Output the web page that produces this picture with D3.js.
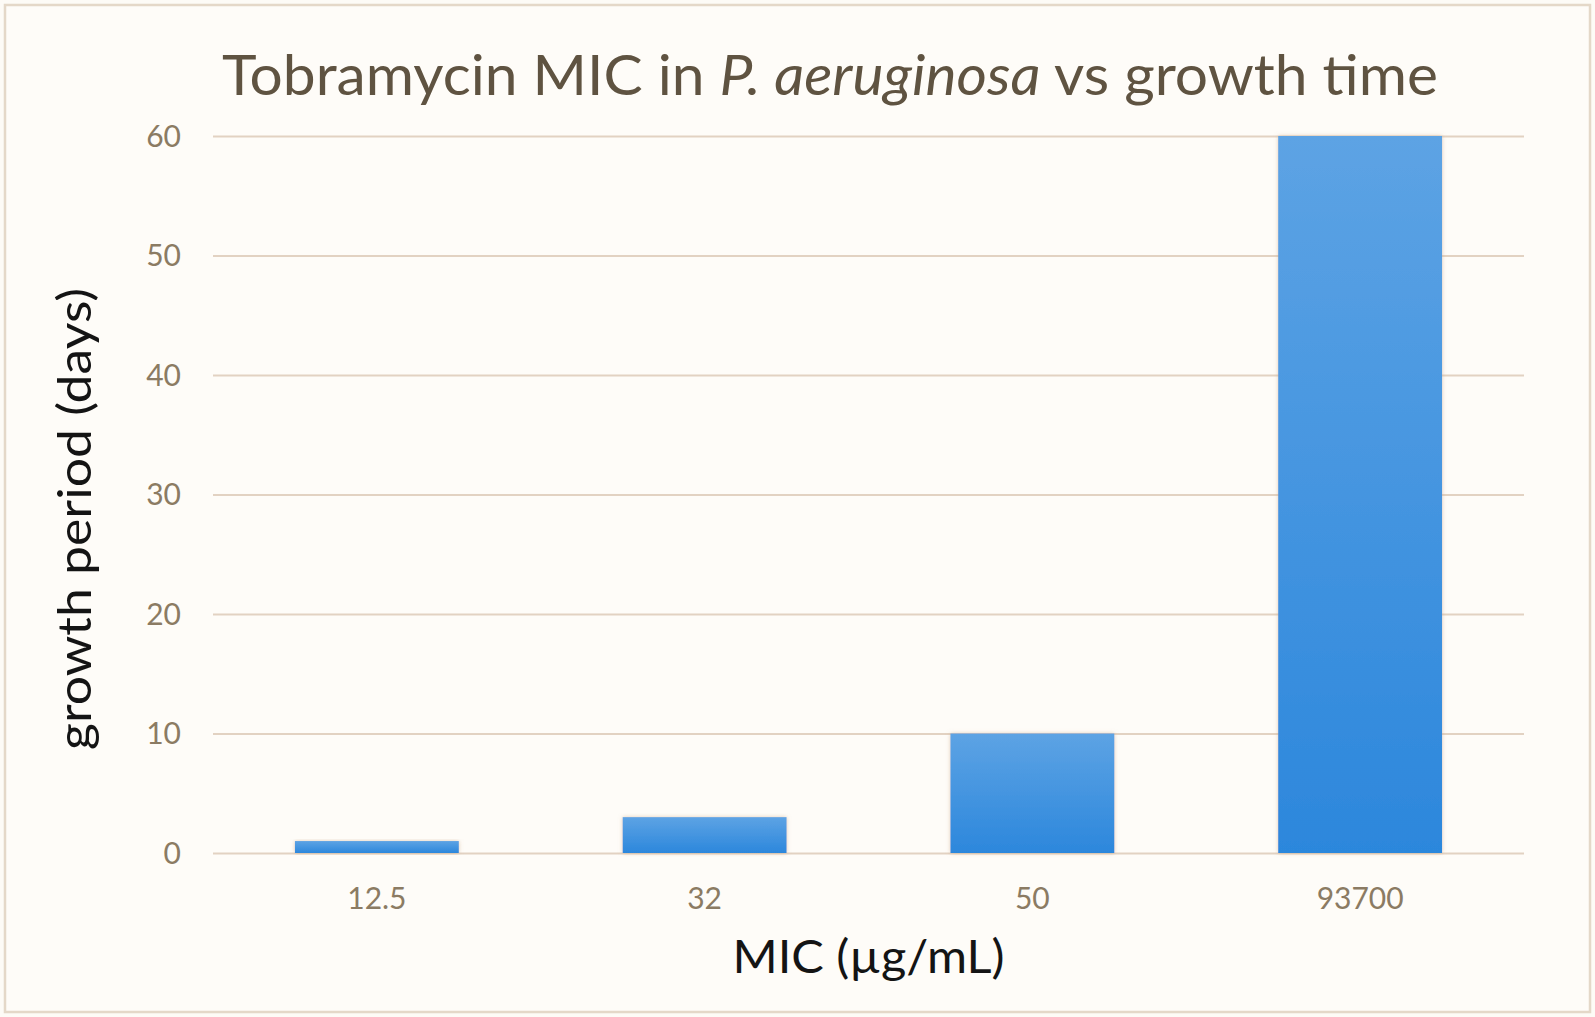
<!DOCTYPE html>
<html>
<head>
<meta charset="utf-8">
<script src="https://cdn.jsdelivr.net/npm/d3@7"></script>
<style>
  html, body { margin: 0; padding: 0; background: #ffffff; }
  svg { display: block; }
</style>
</head>
<body>
<script>
// ---- data ----
const categories = ["12.5", "32", "50", "93700"];
const growthDays = [1, 3, 10, 60];
const yTicks = [0, 10, 20, 30, 40, 50, 60];
const chartTitleParts = [
  { text: "Tobramycin MIC in ", italic: false },
  { text: "P. aeruginosa", italic: true },
  { text: " vs growth time", italic: false }
];
const xAxisTitle = "MIC (µg/mL)";
const yAxisTitle = "growth period (days)";

// ---- layout ----
const W = 1595, H = 1017;
const plot = { left: 213, right: 1524, top: 136, bottom: 853 };
const FONT = "Lato, 'Open Sans', sans-serif";

const svg = d3.select("body").append("svg")
  .attr("width", W).attr("height", H);

const defs = svg.append("defs");
const grad = defs.append("linearGradient")
  .attr("id", "barGrad").attr("x1", 0).attr("y1", 0).attr("x2", 0).attr("y2", 1);
grad.append("stop").attr("offset", "0%").attr("stop-color", "#5da3e4");
grad.append("stop").attr("offset", "100%").attr("stop-color", "#2c87dc");

const shadow = defs.append("filter").attr("id", "barShadow")
  .attr("x", "-10%").attr("y", "-10%").attr("width", "120%").attr("height", "120%");
shadow.append("feDropShadow").attr("dx", 0).attr("dy", 0)
  .attr("stdDeviation", 2.2).attr("flood-color", "#c9a27e").attr("flood-opacity", 0.55);

// background + border
svg.append("rect").attr("x", 0).attr("y", 0).attr("width", W).attr("height", H)
  .attr("fill", "#fdfbf6");
svg.append("rect").attr("x", 5).attr("y", 5).attr("width", W - 10).attr("height", H - 10)
  .attr("fill", "#fefcf8").attr("stroke", "#e4d8c8").attr("stroke-width", 2.5);

// scales
const x = d3.scaleBand().domain(categories)
  .range([plot.left, plot.right]).paddingInner(0.5).paddingOuter(0.25);
const y = d3.scaleLinear().domain([0, 60]).range([plot.bottom, plot.top]);

// gridlines
const yAxis = d3.axisLeft(y).tickValues(yTicks)
  .tickSize(-(plot.right - plot.left)).tickPadding(32).tickFormat(d3.format("d"));
const gy = svg.append("g").attr("transform", `translate(${plot.left},0)`).call(yAxis);
gy.select(".domain").remove();
gy.selectAll(".tick line").attr("stroke", "#e2d2c2").attr("stroke-width", 2.2);
gy.selectAll(".tick text")
  .attr("fill", "#8b7b63").attr("font-family", FONT).attr("font-size", 30)
  .attr("dy", "0.34em");

// bars
svg.append("g").selectAll("rect.bar").data(categories).join("rect")
  .attr("class", "bar")
  .attr("x", d => x(d))
  .attr("width", x.bandwidth())
  .attr("y", (d, i) => y(growthDays[i]))
  .attr("height", (d, i) => y(0) - y(growthDays[i]))
  .attr("fill", "url(#barGrad)")
  .attr("filter", "url(#barShadow)");

// x axis labels
const xAxis = d3.axisBottom(x).tickSize(0).tickPadding(56);
const gx = svg.append("g").attr("transform", `translate(0,${plot.bottom})`).call(xAxis);
gx.select(".domain").remove();
gx.selectAll(".tick text")
  .attr("fill", "#8b7b63").attr("font-family", FONT).attr("font-size", 30)
  .attr("dy", "0");

// title
const title = svg.append("text")
  .attr("x", 222).attr("y", 95)
  .attr("font-family", FONT).attr("font-size", 57)
  .attr("fill", "#5f5341");
chartTitleParts.forEach(p => {
  title.append("tspan").text(p.text).attr("font-style", p.italic ? "italic" : "normal");
});
const tw = title.node().getComputedTextLength();
const targetTW = 1216;
if (Math.abs(tw - targetTW) / targetTW > 0.01) {
  title.attr("textLength", targetTW).attr("lengthAdjust", "spacingAndGlyphs");
}

// x axis title
const xt = svg.append("text")
  .attr("x", (plot.left + plot.right) / 2).attr("y", 973)
  .attr("text-anchor", "middle")
  .attr("font-family", FONT).attr("font-size", 46)
  .attr("fill", "#141414")
  .text(xAxisTitle);
const xtw = xt.node().getComputedTextLength();
if (Math.abs(xtw - 272) / 272 > 0.02) {
  xt.attr("textLength", 272).attr("lengthAdjust", "spacingAndGlyphs");
}

// y axis title
const yt = svg.append("text")
  .attr("transform", `translate(91,519) rotate(-90)`)
  .attr("text-anchor", "middle")
  .attr("font-family", FONT).attr("font-size", 46)
  .attr("fill", "#141414")
  .text(yAxisTitle);
const ytw = yt.node().getComputedTextLength();
if (Math.abs(ytw - 462) / 462 > 0.02) {
  yt.attr("textLength", 462).attr("lengthAdjust", "spacingAndGlyphs");
}
</script>
</body>
</html>
